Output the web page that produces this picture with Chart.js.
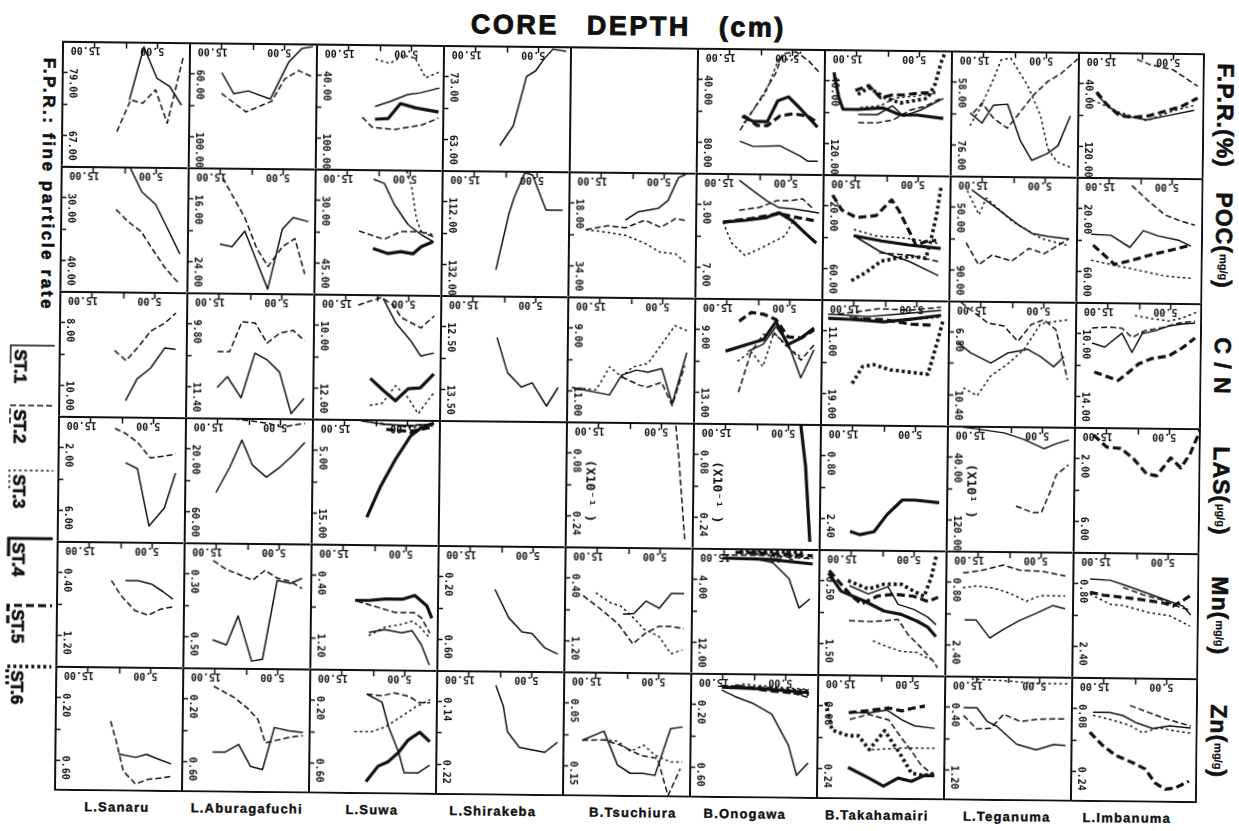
<!DOCTYPE html>
<html>
<head>
<meta charset="utf-8">
<script src="https://cdn.jsdelivr.net/npm/chart.js@4.4.1/dist/chart.umd.min.js"></script>
<style>
  html, body { margin: 0; padding: 0; background: #fff; }
  #fig { position: relative; width: 1239px; height: 831px; transform: rotate(0.62deg); transform-origin: 629px 422px; color: #111; font-family: "Liberation Sans", Arial, sans-serif; }
  #title { position: absolute; left: 324px; width: 600px; top: 10px; text-align: center; font: bold 27px/32px "Liberation Sans", Arial, sans-serif; letter-spacing: 2.5px; word-spacing: 18px; -webkit-text-stroke: 0.9px #111; }
  .vert { position: absolute; writing-mode: vertical-rl; white-space: nowrap; font-weight: bold; -webkit-text-stroke: 0.6px #111; }
  #side { left: 35px; top: 64px; width: 20px; font-size: 17px; line-height: 20px; letter-spacing: 2.6px; }
  .param { left: 1207px; width: 30px; height: 125px; font-size: 23px; line-height: 30px; text-align: center; letter-spacing: 1px; }
  .param small { font-size: 11px; letter-spacing: 0; -webkit-text-stroke: 0.2px #111; }
  .lake { position: absolute; top: 805px; width: 150px; text-align: center; font: bold 13px/16px "Liberation Sans", Arial, sans-serif; letter-spacing: 1.2px; -webkit-text-stroke: 0.4px #111; }
  canvas { position: absolute; }
</style>
</head>
<body>
<div id="fig">
  <div id="title">CORE DEPTH (cm)</div>
  <div id="side" class="vert">F.P.R.: fine particle rate</div>
  <canvas id="legend" width="60" height="420" style="left:0;top:330px"></canvas>
</div>
<script>
'use strict';

// ***************** LABELS & TICKS ***************** //

let lakes = ['L.Sanaru', 'L.Aburagafuchi', 'L.Suwa', 'L.Shirakeba', 'B.Tsuchiura', 'B.Onogawa', 'B.Takahamairi', 'L.Teganuma', 'L.Imbanuma'];
let lakeLabelX = [121, 251, 376, 497, 637, 749, 881, 1011, 1131];
let stations = ['ST.1', 'ST.2', 'ST.3', 'ST.4', 'ST.5', 'ST.6'];
let paramLabels = ['F.P.R.(%)', 'POC(<small>mg/g</small>)', 'C / N', 'LAS(<small>µg/g</small>)', 'Mn(<small>mg/g</small>)', 'Zn(<small>mg/g</small>)'];

// core depth (cm), drawn from 20 on the left to 0 on the right
let depthTicks = [15, 10, 5];
let depthLabels = [15, 5];

// [upper tick, lower tick] of every panel, one list per parameter
let fprTicks = [[79, 67], [60, 100], [40, 100], [73, 63], null, [40, 80], [40, 120], [58, 76], [40, 120]];
let pocTicks = [[30, 40], [16, 24], [30, 45], [112, 132], [18, 34], [3, 7], [20, 60], [50, 90], [20, 60]];
let cnTicks = [[8, 10], [9.8, 11.4], [10, 12], [12.5, 13.5], [9, 11], [9, 13], [11, 19], [6.8, 10.4], [10, 14]];
let lasTicks = [[2, 6], [20, 60], [5, 15], null, [0.08, 0.24], [0.08, 0.24], [0.8, 2.4], [40, 120], [2, 6]];
let mnTicks = [[0.4, 1.2], [0.3, 0.5], [0.4, 1.2], [0.2, 0.6], [0.4, 1.2], [4, 12], [0.5, 1.5], [0.8, 2.4], [0.8, 2.4]];
let znTicks = [[0.2, 0.6], [0.2, 0.6], [0.2, 0.6], [0.14, 0.22], [0.05, 0.15], [0.2, 0.6], [0.08, 0.24], [0.4, 1.2], [0.08, 0.24]];
let lasNotes = [null, null, null, null, '(X10⁻¹ )', '(X10⁻¹ )', null, '(X10¹ )', null];

// ***************** PROFILES ***************** //
// each panel: [ST.1, ST.2, ST.3, ST.4, ST.5, ST.6], points are [depth, value]

let fprSanaru = [
  [[9.3, 73.8], [7.1, 84.0], [5.0, 78.0], [3.0, 76.5], [1.1, 72.9]],
  [[11.2, 67.7], [9.1, 73.8], [7.2, 73.2], [5.2, 75.8], [3.3, 69.4], [0.9, 82.1]]
];
let fprAburagafuchi = [
  [[14.8, 59.2], [12.9, 72.6], [10.6, 70.8], [7.1, 75.8], [4.3, 52.2], [2.2, 43.2], [0.5, 42.0]],
  [[14.8, 72.6], [10.9, 84.2], [6.9, 77.2], [4.9, 63.0], [2.7, 57.4], [0.6, 61.2]]
];
let fprSuwa = [
  [[10.6, 69.7], [8.3, 64.9], [5.5, 58.0], [3.5, 56.2], [0.5, 51.4]],
  [[12.6, 80.2], [11.0, 89.8], [7.4, 91.6], [3.1, 86.8], [0.6, 80.2]],
  [[10.6, 24.4], [8.3, 28.3], [6.3, 20.5], [4.4, 22.6], [2.7, 41.8], [0.6, 36.1]],
  [[10.6, 82.0], [8.5, 81.1], [6.6, 66.7], [4.3, 70.6], [0.6, 74.5]]
];
let fprShirakeba = [
  [[10.9, 62.0], [8.8, 65.2], [6.8, 73.1], [5.4, 74.0], [4.1, 75.9], [2.7, 77.5], [0.6, 77.2]]
];
let fprTsuchiura = [];
let fprOnogawa = [
  [[13.1, 79.6], [11.0, 82.8], [6.8, 82.2], [3.6, 88.6], [2.4, 91.8], [0.8, 91.8]],
  [[13.1, 72.6], [9.9, 52.0], [7.6, 36.0], [6.5, 23.2], [4.4, 22.0], [2.4, 27.6], [0.5, 36.0]],
  [[12.5, 68.0], [9.2, 48.8], [7.0, 25.2], [5.2, 27.6], [3.0, 20.0], [0.8, 18.0]],
  [[12.8, 63.6], [11.0, 66.8], [8.8, 66.8], [7.2, 53.4], [5.5, 50.8], [3.6, 58.4], [0.9, 70.0]],
  [[12.6, 63.0], [10.4, 69.4], [8.8, 69.4], [6.8, 63.0], [4.7, 61.6], [2.5, 63.0], [0.8, 67.4]]
];
let fprTakahamairi = [
  [[14.5, 83.2], [11.5, 83.2], [9.1, 71.6], [7.4, 84.8], [4.7, 76.8], [1.1, 61.6]],
  [[14.5, 93.6], [11.5, 93.6], [9.0, 89.6], [6.3, 76.8], [3.9, 71.6], [1.6, 61.6]],
  [[14.2, 74.4], [11.0, 71.6], [8.7, 61.6], [5.5, 58.8], [2.4, 55.2]],
  [[18.4, 29.6], [17.6, 61.6], [16.9, 76.8], [14.5, 76.8], [10.6, 74.4], [7.9, 83.2], [5.2, 83.2], [1.1, 87.2]],
  [[15.0, 52.4], [12.9, 46.0], [11.0, 61.6], [9.1, 57.6], [7.4, 57.6], [5.2, 55.2], [2.4, 54.0]],
  [[14.6, 57.6], [12.9, 48.8], [10.2, 61.6], [7.9, 68.0], [3.6, 61.6], [2.4, 42.4], [1.6, 16.8], [0.8, 0]]
];
let fprTeganuma = [
  [[16.9, 66.9], [15.0, 69.8], [13.2, 64.6], [11.0, 64.3], [8.9, 74.9], [7.1, 80.4], [4.7, 78.4], [3.0, 76.1], [1.1, 67.5]],
  [[16.4, 66.9], [15.0, 64.0], [13.2, 68.4], [11.0, 71.2], [8.9, 66.3], [7.0, 61.7], [4.7, 57.6], [2.7, 55.4], [0.0, 51.0]],
  [[16.9, 70.6], [15.3, 65.5], [13.2, 56.8], [12.1, 51.6], [10.6, 51.0], [7.9, 58.8], [5.8, 67.5], [4.6, 77.0], [3.1, 80.8], [1.1, 82.2]]
];
let fprImbanuma = [
  [[17.0, 54.0], [15.0, 70.4], [12.9, 80.8], [9.1, 86.0], [6.0, 80.8], [1.6, 73.2]],
  [[10.7, 8.8], [8.7, 15.2], [5.0, 21.6], [1.1, 42.4]],
  [[17.6, 61.6], [13.4, 76.8], [9.1, 87.2], [5.0, 74.4], [1.6, 66.8]],
  [],
  [[17.0, 51.2], [15.4, 66.8], [13.4, 80.8], [11.3, 83.2], [8.7, 80.8], [6.0, 74.4], [3.5, 68.0], [1.1, 57.6]]
];

let pocSanaru = [
  [[9.0, 25.3], [7.2, 29.0], [5.0, 31.0], [3.0, 35.0], [1.1, 38.9]],
  [[11.2, 31.9], [9.3, 33.8], [7.2, 35.4], [5.4, 38.2], [3.5, 41.0], [1.4, 43.4]]
];
let pocAburagafuchi = [
  [[14.8, 21.8], [12.9, 22.1], [10.9, 20.1], [9.0, 23.9], [7.2, 27.5], [5.0, 19.8], [3.3, 18.3], [0.9, 18.8]],
  [[14.5, 13.3], [10.9, 18.4], [9.0, 22.3], [7.2, 24.6], [4.9, 22.0], [3.0, 21.0], [1.4, 25.5]]
];
let pocSuwa = [
  [[10.7, 24.9], [9.0, 25.9], [7.4, 30.9], [5.2, 35.7], [3.1, 38.1], [1.1, 39.8]],
  [[12.9, 37.4], [9.0, 39.3], [6.3, 37.4], [3.1, 37.4], [1.1, 38.6]],
  [[5.5, 22.9], [4.7, 26.6], [3.9, 34.3], [3.1, 37.4], [1.1, 38.1]],
  [[10.7, 41.5], [8.3, 42.7], [6.3, 42.2], [4.4, 42.7], [3.1, 41.0], [1.3, 39.8]]
];
let pocShirakeba = [
  [[11.3, 133.7], [9.3, 115.5], [8.5, 110.3], [6.9, 102.6], [5.7, 103.3], [3.5, 114.5], [0.9, 114.5]]
];
let pocTsuchiura = [
  [[11.0, 22.3], [9.0, 20.2], [5.8, 19.2], [4.3, 17.2], [2.7, 11.3], [1.6, 10.5]],
  [[17.2, 24.9], [13.7, 23.8], [11.0, 24.3], [7.9, 22.3], [5.4, 24.1], [3.1, 21.8], [1.4, 22.3]],
  [[17.2, 24.9], [14.2, 25.4], [11.0, 26.2], [7.9, 28.2], [5.4, 30.5], [3.1, 30.8], [1.4, 33.0]]
];
let pocOnogawa = [
  [[13.1, 1.45], [11.0, 2.09], [8.8, 2.73], [6.8, 3.18], [4.7, 3.24], [2.5, 3.37], [0.5, 3.50]],
  [[13.1, 3.37], [9.9, 3.18], [7.2, 2.73], [5.2, 2.73], [3.1, 2.60], [1.6, 3.18]],
  [[15.6, 4.14], [14.2, 5.49], [12.1, 6.26], [9.4, 5.74], [5.8, 4.97], [4.3, 3.82]],
  [[15.6, 4.14], [12.0, 4.01], [8.8, 3.82], [6.8, 3.50], [4.7, 4.01], [2.5, 4.85], [0.9, 5.42]],
  [[15.6, 4.14], [11.0, 3.88], [6.8, 3.56], [3.6, 3.82], [0.9, 4.01]]
];
let pocTakahamairi = [
  [[15.0, 39.2], [11.0, 48.8], [6.3, 55.2], [1.6, 64.2]],
  [[11.0, 50.0], [6.3, 51.2], [1.6, 55.2]],
  [[15.0, 35.2], [11.5, 39.2], [6.8, 40.4], [1.6, 43.6]],
  [[15.0, 39.2], [10.6, 42.4], [6.3, 44.8], [1.3, 46.8]],
  [[18.4, 13.4], [16.9, 23.0], [14.6, 27.6], [11.5, 26.2], [9.1, 16.0], [7.9, 23.0], [6.3, 35.8], [5.2, 44.8], [3.6, 42.4], [2.0, 41.6]],
  [[15.3, 68.0], [13.1, 62.8], [10.6, 55.2], [7.9, 53.2], [5.8, 52.0], [3.6, 53.2], [2.8, 40.4], [2.0, 25.6], [1.3, 6.4]]
];
let pocTeganuma = [
  [[16.5, 39.0], [13.2, 48.6], [9.0, 61.4], [6.9, 66.6], [4.3, 68.4], [1.1, 69.8]],
  [[17.3, 73.0], [15.3, 87.0], [13.2, 80.6], [10.1, 84.4], [7.4, 76.2], [5.0, 79.4], [1.1, 69.8]],
  [[17.2, 39.6], [15.3, 55.0], [14.2, 44.2], [10.1, 58.8], [5.4, 69.8], [1.1, 74.2]]
];
let pocImbanuma = [
  [[17.6, 36.6], [14.5, 37.2], [11.5, 44.8], [9.4, 34.0], [7.1, 37.2], [3.9, 39.8], [1.9, 43.6]],
  [[11.3, 5.2], [8.7, 14.8], [6.0, 23.8], [3.5, 27.6], [1.3, 30.2]],
  [[17.6, 53.2], [13.9, 56.4], [9.8, 59.6], [6.0, 62.8], [1.9, 64.2]],
  [],
  [[17.3, 43.6], [13.9, 55.8], [11.3, 53.2], [8.2, 49.4], [5.0, 46.2], [1.9, 43.0]]
];

let cnSanaru = [
  [[9.4, 10.49], [7.6, 9.79], [5.5, 9.44], [3.3, 8.79], [1.6, 8.83]],
  [[11.2, 8.89], [9.4, 9.21], [7.6, 8.79], [5.5, 8.25], [3.3, 7.99], [1.6, 7.67]]
];
let cnAburagafuchi = [
  [[15.0, 11.43], [13.4, 11.15], [11.2, 11.69], [9.1, 10.54], [7.1, 10.72], [5.2, 11.02], [3.3, 12.08], [1.3, 11.69]],
  [[15.0, 10.51], [13.1, 10.51], [11.2, 9.74], [9.1, 9.77], [7.2, 10.28], [5.2, 10.02], [3.1, 9.95], [1.3, 10.21]]
];
let cnSuwa = [
  [[9.0, 9.13], [6.9, 9.93], [4.6, 10.47], [3.0, 10.96], [0.9, 10.86]],
  [[12.9, 9.35], [9.3, 9.10], [7.4, 9.35], [6.1, 9.74], [3.0, 10.06], [0.9, 9.67]],
  [[10.9, 12.56], [9.0, 12.49], [6.9, 11.92], [4.9, 12.30], [3.3, 12.81], [0.9, 12.14]],
  [[10.9, 11.69], [8.8, 12.08], [6.9, 12.40], [4.9, 12.01], [3.0, 11.98], [0.9, 11.53]]
];
let cnShirakeba = [
  [[11.0, 12.67], [9.3, 13.23], [7.1, 13.46], [5.4, 13.39], [3.1, 13.76], [1.3, 13.46]]
];
let cnTsuchiura = [
  [[19.1, 10.92], [13.2, 11.14], [11.3, 10.50], [9.0, 10.34], [7.2, 10.40], [5.0, 10.28], [3.3, 11.40], [1.1, 9.76]],
  [[11.3, 10.56], [8.5, 10.82], [7.2, 10.88], [5.0, 10.72], [3.3, 11.46], [1.4, 10.18]],
  [[19.1, 10.92], [15.3, 10.98], [13.2, 10.24], [11.3, 10.56], [9.6, 10.24], [7.2, 10.12], [5.4, 9.60], [3.0, 8.90], [1.1, 9.06]]
];
let cnOnogawa = [
  [[11.5, 10.40], [9.1, 9.94], [7.1, 8.80], [5.2, 9.82], [3.1, 12.06], [1.1, 10.26]],
  [[12.9, 13.02], [11.0, 10.46], [9.1, 9.30], [7.1, 9.30], [3.1, 10.92], [1.1, 9.94]],
  [[13.1, 11.04], [11.0, 10.40], [9.1, 11.36], [7.4, 9.18], [5.2, 10.14], [3.1, 10.72]],
  [[15.0, 10.40], [11.5, 9.94], [9.0, 9.62], [7.1, 8.48], [5.2, 9.94], [3.1, 9.50], [1.1, 8.86]],
  [[12.9, 8.48], [11.0, 7.90], [9.0, 8.02], [7.1, 8.34], [5.2, 9.44], [3.1, 9.50], [1.1, 8.98]]
];
let cnTakahamairi = [
  [[18.9, 8.92], [12.6, 9.16], [7.4, 8.80], [1.1, 8.28]],
  [[17.3, 8.92], [11.0, 8.16], [5.8, 8.28], [1.1, 7.88]],
  [[15.6, 9.16], [10.6, 9.84], [1.1, 9.16]],
  [[18.9, 9.44], [15.3, 9.56], [10.1, 9.84], [5.8, 9.44], [1.1, 8.92]],
  [[15.3, 9.44], [10.1, 9.56], [5.8, 10.08], [2.2, 10.20]],
  [[15.0, 17.76], [13.4, 15.60], [11.7, 15.32], [9.0, 15.96], [5.8, 16.24], [3.1, 16.48], [2.2, 13.92], [1.6, 12.12], [0.8, 9.56]]
];
let cnTeganuma = [
  [[18.4, 7.43], [16.4, 8.00], [13.2, 8.58], [10.6, 8.00], [7.4, 7.77], [5.4, 8.17], [3.3, 8.75], [1.7, 8.17]],
  [[18.0, 5.1], [13.7, 6.28], [11.2, 6.44], [9.0, 7.31], [6.9, 6.34], [4.9, 6.05], [3.0, 6.62], [1.1, 9.50]],
  [[17.5, 10.02], [15.3, 10.47], [13.2, 9.32], [10.6, 8.64], [8.0, 7.77], [5.4, 6.28], [3.3, 6.15], [1.1, 6.04]]
];
let cnImbanuma = [
  [[17.3, 10.62], [15.3, 10.88], [12.6, 9.98], [11.0, 11.20], [9.4, 9.98], [7.4, 9.80], [5.2, 9.48], [3.1, 9.34], [1.1, 9.28]],
  [[17.3, 9.66], [14.6, 9.60], [12.6, 9.66], [11.0, 10.24], [9.0, 9.80], [6.3, 9.60], [3.6, 9.28], [1.1, 9.16]],
  [[10.6, 8.84], [7.9, 9.02], [5.2, 9.16], [3.1, 8.96], [0.5, 8.52]],
  [],
  [[16.9, 12.48], [14.6, 12.80], [13.1, 13.00], [11.5, 12.48], [9.9, 11.92], [7.9, 11.58], [5.2, 11.40], [3.1, 10.88], [1.1, 10.24]]
];

let lasSanaru = [
  [[9.3, 2.95], [7.4, 3.33], [5.5, 6.99], [3.1, 5.83], [1.4, 3.59]],
  [[11.0, 0.77], [9.3, 1.09], [7.4, 1.66], [5.4, 2.63], [3.1, 2.50], [1.4, 2.37]]
];
let lasAburagafuchi = [
  [[15.0, 48.0], [12.9, 32.0], [11.0, 14.2], [9.3, 30.2], [7.1, 37.8], [5.0, 31.4], [3.0, 23.8], [1.1, 15.4]],
  [[12.4, 0.6], [7.1, 3.2], [4.6, 5.8], [3.0, 4.4], [1.1, 3.2]]
];
let lasSuwa = [
  [[12.3, 0.3], [8.7, 0.8], [4.4, 0.95], [0.8, 0.65]],
  [[10.7, 0.5], [6.0, 1.1], [2.8, 0.8], [0.8, 0.8]],
  [[9.1, 0.65], [4.4, 1.3], [0.8, 0.95]],
  [[11.2, 15.7], [9.1, 10.75], [6.8, 6.4], [4.4, 2.55], [2.8, 1.3], [0.8, 0.5]],
  [[8.3, 1.6], [4.4, 1.9], [0.8, 1.1]]
];
let lasShirakeba = [];
let lasTsuchiura = [
  [],
  [[2.7, 0.008], [2.2, 0.085], [1.6, 0.202], [1.1, 0.302]]
];
let lasOnogawa = [
  [], [], [],
  [[3.0, 0.005], [2.2, 0.108], [1.4, 0.302]]
];
let lasTakahamairi = [
  [], [], [],
  [[15.1, 2.74], [13.5, 2.82], [11.3, 2.74], [9.3, 2.30], [6.9, 1.92], [4.9, 1.92], [1.1, 1.98]]
];
let lasTeganuma = [
  [[17.5, 2.0], [15.3, 4.0], [11.0, 8.8], [7.9, 16.8], [4.7, 28.4], [2.7, 21.6], [0.8, 16.8]],
  [[9.0, 102.4], [6.3, 110.4], [5.0, 110.4], [3.5, 80.8], [2.7, 61.6], [0.8, 48.8]]
];
let lasImbanuma = [
  [], [], [], [],
  [[16.9, 0.51], [14.8, 1.28], [12.6, 1.35], [10.6, 1.99], [8.5, 2.95], [6.9, 3.08], [4.7, 1.92], [3.1, 2.56], [1.6, 1.60], [0.0, 0.0]]
];

let mnSanaru = [
  [[9.1, 0.50], [7.1, 0.50], [5.0, 0.54], [3.1, 0.64], [1.6, 0.73]],
  [[11.3, 0.50], [9.8, 0.69], [7.6, 0.88], [5.5, 0.94], [3.5, 0.86], [1.6, 0.83]]
];
let mnAburagafuchi = [
  [[15.3, 0.511], [13.1, 0.527], [11.3, 0.434], [9.1, 0.578], [7.4, 0.572], [5.2, 0.319], [3.1, 0.328], [1.3, 0.312]],
  [[15.3, 0.258], [13.1, 0.287], [11.0, 0.303], [9.1, 0.319], [7.1, 0.287], [5.2, 0.312], [3.1, 0.322], [1.3, 0.344]]
];
let mnSuwa = [
  [[10.7, 1.13], [8.2, 1.09], [5.5, 1.13], [3.9, 1.10], [2.4, 1.28], [1.1, 1.54]],
  [[12.6, 0.73], [6.6, 0.87], [3.6, 0.87], [2.4, 0.94], [1.1, 1.13]],
  [[10.7, 1.17], [8.2, 1.06], [5.5, 1.02], [3.9, 0.98], [2.8, 1.04], [1.1, 1.19]],
  [[12.9, 0.72], [10.7, 0.72], [8.2, 0.70], [5.5, 0.70], [3.5, 0.65], [1.6, 0.78], [0.8, 0.94]]
];
let mnShirakeba = [
  [[10.9, 0.28], [8.7, 0.46], [6.6, 0.55], [5.0, 0.56], [3.0, 0.65], [0.9, 0.69]]
];
let mnTsuchiura = [
  [[10.7, 0.86], [9.0, 0.85], [7.1, 0.69], [5.0, 0.78], [3.1, 0.59], [1.1, 0.59]],
  [[17.0, 0.63], [14.2, 0.80], [11.5, 0.98], [9.1, 1.24], [7.1, 1.10], [5.0, 1.01], [3.1, 1.01], [1.1, 1.04]],
  [[15.0, 0.59], [12.6, 0.72], [11.0, 0.76], [9.0, 0.91], [7.4, 1.05], [5.0, 1.14], [3.1, 1.36], [1.3, 1.31]]
];
let mnOnogawa = [
  [[15.1, 1.28], [10.4, 1.28], [7.2, 1.80], [4.6, 3.84], [3.0, 7.56], [1.3, 6.40]],
  [[15.1, 0.88], [7.7, 0.88], [0.9, 1.28]],
  [[12.4, 0.64], [5.2, 0.88], [0.9, 1.16]],
  [[15.1, 1.28], [7.7, 1.40], [0.9, 1.92]],
  [[13.1, 0.52], [7.7, 0.64], [0.9, 0.88]],
  [[12.4, 0.24], [7.7, 0.40], [2.5, 0.52]]
];
let mnTakahamairi = [
  [[15.1, 0.58], [12.1, 0.71], [9.0, 0.59], [7.4, 0.87], [4.9, 0.95], [2.7, 1.07], [1.4, 1.19]],
  [[15.1, 1.14], [12.1, 1.15], [9.6, 1.14], [7.4, 1.11], [5.8, 1.35], [3.8, 1.55], [1.7, 1.78], [1.1, 1.88]],
  [[11.3, 1.46], [9.0, 1.55], [6.9, 1.62], [4.3, 1.64], [2.2, 1.75]],
  [[18.4, 0.38], [16.4, 0.67], [12.8, 0.82], [9.6, 0.98], [6.9, 1.03], [4.3, 1.14], [2.7, 1.23], [1.4, 1.38]],
  [[18.3, 0.34], [14.8, 0.74], [13.2, 0.87], [10.6, 0.74], [8.0, 0.71], [4.9, 0.74], [2.7, 0.82], [1.1, 0.75]],
  [[15.3, 0.50], [12.1, 0.63], [9.6, 0.55], [6.9, 0.55], [4.9, 0.66], [3.3, 0.74], [2.2, 0.43], [1.4, 0.06]]
];
let mnTeganuma = [
  [[16.9, 1.77], [15.1, 1.77], [12.9, 2.23], [10.9, 2.02], [8.2, 1.77], [5.7, 1.59], [3.0, 1.38], [1.1, 1.46]],
  [[17.2, 0.57], [14.5, 0.51], [10.9, 0.36], [8.2, 0.49], [4.6, 0.51], [1.1, 0.62]],
  [[17.2, 0.95], [15.1, 0.90], [12.4, 0.95], [9.8, 1.08], [7.2, 1.28], [5.0, 1.13], [1.1, 1.13]]
];
let mnImbanuma = [
  [[17.2, 0.69], [14.0, 0.72], [11.5, 0.85], [8.3, 1.03], [5.2, 1.21], [2.5, 1.36], [1.3, 1.59]],
  [[12.0, 0.90], [8.8, 1.08], [5.7, 1.21], [3.6, 1.36], [1.4, 1.46]],
  [[17.2, 1.08], [14.0, 1.33], [12.0, 1.36], [7.7, 1.54], [4.6, 1.61], [1.4, 1.87]],
  [],
  [[17.2, 1.03], [15.1, 1.10], [12.0, 1.15], [8.8, 1.21], [5.7, 1.28], [4.1, 1.36], [2.5, 1.21], [1.3, 1.08]]
];

let znSanaru = [
  [[9.9, 0.56], [7.2, 0.58], [5.5, 0.56], [3.6, 0.59], [1.6, 0.62]],
  [[11.2, 0.35], [10.2, 0.49], [9.1, 0.67], [7.2, 0.75], [5.2, 0.72], [3.1, 0.71], [1.6, 0.70]]
];
let znAburagafuchi = [
  [[15.1, 0.54], [13.1, 0.54], [11.0, 0.49], [9.1, 0.63], [7.2, 0.65], [5.4, 0.38], [3.1, 0.40], [0.9, 0.41]],
  [[15.0, 0.12], [11.8, 0.19], [9.6, 0.26], [8.0, 0.33], [6.8, 0.48], [4.9, 0.46], [2.8, 0.44], [0.9, 0.43]]
];
let znSuwa = [
  [[10.9, 0.16], [8.5, 0.21], [7.4, 0.37], [5.8, 0.53], [4.9, 0.66], [2.7, 0.66], [0.9, 0.61]],
  [[10.9, 0.16], [8.5, 0.17], [6.6, 0.15], [4.3, 0.17], [2.7, 0.21], [0.9, 0.21]],
  [[12.8, 0.40], [10.1, 0.40], [8.0, 0.37], [5.4, 0.30], [3.3, 0.24], [0.9, 0.19]],
  [[10.9, 0.72], [9.0, 0.62], [7.4, 0.59], [5.8, 0.53], [4.3, 0.45], [2.5, 0.40], [0.9, 0.46]]
];
let znShirakeba = [
  [[10.6, 0.119], [9.4, 0.145], [8.7, 0.178], [6.8, 0.198], [4.7, 0.201], [2.8, 0.204], [0.8, 0.191]]
];
let znTsuchiura = [
  [[16.9, 0.110], [13.5, 0.095], [11.3, 0.149], [9.3, 0.162], [7.2, 0.162], [5.4, 0.165], [3.0, 0.090], [1.1, 0.087]],
  [[16.9, 0.110], [13.5, 0.109], [10.9, 0.117], [7.7, 0.133], [5.0, 0.138], [3.3, 0.197], [1.4, 0.154]],
  [[13.5, 0.109], [11.3, 0.111], [9.3, 0.127], [7.2, 0.117], [5.4, 0.133], [3.0, 0.143], [1.1, 0.143]]
];
let znOnogawa = [
  [[15.0, 0.11], [12.9, 0.15], [10.2, 0.19], [7.1, 0.26], [4.4, 0.46], [3.1, 0.65], [1.3, 0.57]],
  [[15.0, 0.08], [7.6, 0.09], [1.3, 0.15]],
  [[11.8, 0.07], [5.0, 0.09], [1.3, 0.10]],
  [[15.0, 0.09], [7.6, 0.10], [1.3, 0.12]],
  [[12.9, 0.08], [7.6, 0.11], [1.3, 0.13]],
  [[7.6, 0.10], [1.3, 0.11]]
];
let znTakahamairi = [
  [[14.8, 0.098], [11.8, 0.098], [9.0, 0.090], [6.6, 0.115], [4.6, 0.130], [1.4, 0.136]],
  [[14.8, 0.115], [11.8, 0.102], [8.7, 0.115], [6.6, 0.162], [5.0, 0.195], [3.5, 0.230], [1.4, 0.257]],
  [[11.3, 0.192], [6.6, 0.187], [1.4, 0.187]],
  [[15.0, 0.238], [11.8, 0.264], [9.4, 0.285], [7.1, 0.264], [5.0, 0.272], [3.0, 0.257], [1.4, 0.257]],
  [[15.0, 0.098], [11.8, 0.092], [8.7, 0.085], [6.6, 0.092], [5.0, 0.085], [3.0, 0.079]],
  [[18.6, 0.072], [17.6, 0.143], [15.0, 0.157], [13.4, 0.157], [11.7, 0.192], [9.3, 0.143], [6.9, 0.200], [5.0, 0.251], [3.0, 0.257], [1.4, 0.251]]
];
let znTeganuma = [
  [[16.9, 0.41], [14.8, 0.41], [13.2, 0.58], [11.7, 0.64], [8.5, 0.87], [5.4, 0.94], [2.7, 0.87], [0.8, 0.88]],
  [[16.9, 0.51], [14.8, 0.68], [12.6, 0.67], [10.6, 0.49], [7.9, 0.58], [5.4, 0.55], [2.7, 0.54], [0.8, 0.54]],
  [[15.7, 0.04], [10.6, 0.06], [5.4, 0.09], [0.6, 0.09]]
];
let znImbanuma = [
  [[16.5, 0.090], [13.9, 0.090], [11.8, 0.098], [9.8, 0.115], [7.1, 0.130], [4.4, 0.123], [1.1, 0.128]],
  [[10.7, 0.072], [7.6, 0.090], [5.0, 0.105], [2.8, 0.115], [1.1, 0.123]],
  [[16.5, 0.098], [13.4, 0.110], [10.7, 0.123], [8.7, 0.141], [6.0, 0.128], [3.5, 0.136], [1.1, 0.141]],
  [],
  [[17.0, 0.141], [15.0, 0.174], [12.9, 0.200], [10.2, 0.218], [8.2, 0.234], [6.6, 0.270], [5.0, 0.285], [3.5, 0.282], [1.3, 0.264]]
];

// ***************** STYLE ***************** //

let ink = '#111';
let stWidths = [1.5, 1.5, 1.5, 3.2, 3.2, 3.6];
let stDashes = [[], [6, 3], [2.5, 3], [], [8, 4], [3, 3]];
let tickFont = 'bold 10px "DejaVu Sans Mono", monospace';
let noteFont = 'bold 13px "DejaVu Sans Mono", monospace';

let gridLeft = 58;
let gridTop = 47;
let cellW = 127;
let cellH = 125;

// ***************** PANEL GRID ***************** //

let rows = [
  { ticks: fprTicks, notes: [], cells: [fprSanaru, fprAburagafuchi, fprSuwa, fprShirakeba, fprTsuchiura, fprOnogawa, fprTakahamairi, fprTeganuma, fprImbanuma] },
  { ticks: pocTicks, notes: [], cells: [pocSanaru, pocAburagafuchi, pocSuwa, pocShirakeba, pocTsuchiura, pocOnogawa, pocTakahamairi, pocTeganuma, pocImbanuma] },
  { ticks: cnTicks, notes: [], cells: [cnSanaru, cnAburagafuchi, cnSuwa, cnShirakeba, cnTsuchiura, cnOnogawa, cnTakahamairi, cnTeganuma, cnImbanuma] },
  { ticks: lasTicks, notes: lasNotes, cells: [lasSanaru, lasAburagafuchi, lasSuwa, lasShirakeba, lasTsuchiura, lasOnogawa, lasTakahamairi, lasTeganuma, lasImbanuma] },
  { ticks: mnTicks, notes: [], cells: [mnSanaru, mnAburagafuchi, mnSuwa, mnShirakeba, mnTsuchiura, mnOnogawa, mnTakahamairi, mnTeganuma, mnImbanuma] },
  { ticks: znTicks, notes: [], cells: [znSanaru, znAburagafuchi, znSuwa, znShirakeba, znTsuchiura, znOnogawa, znTakahamairi, znTeganuma, znImbanuma] }
];

// frame, inward tick marks and the turned tick labels of one panel
let panelAxes = {
  id: 'panelAxes',
  afterDatasetsDraw(chart, args, opts) {
    let ctx = chart.ctx;
    let area = chart.chartArea;
    let xScale = chart.scales.x;
    let yScale = chart.scales.y;

    ctx.save();
    ctx.strokeStyle = ink;
    ctx.fillStyle = ink;
    ctx.setLineDash([]);
    ctx.lineWidth = 2;
    ctx.beginPath();
    ctx.moveTo(area.left + 1, area.bottom);
    ctx.lineTo(area.left + 1, area.top + 1);
    ctx.lineTo(area.right, area.top + 1);
    if (opts.lastCol) {
      ctx.moveTo(area.right - 1, area.top);
      ctx.lineTo(area.right - 1, area.bottom);
    }
    if (opts.lastRow) {
      ctx.moveTo(area.left, area.bottom - 1);
      ctx.lineTo(area.right, area.bottom - 1);
    }
    ctx.stroke();

    if (opts.ticks) {
      let top = opts.ticks[0];
      let bottom = opts.ticks[1];
      let yValues = [top, (top + bottom) / 2, bottom];

      ctx.lineWidth = 1.5;
      ctx.beginPath();
      for (let d of depthTicks) {
        let px = Math.round(xScale.getPixelForValue(d)) + 0.5;
        ctx.moveTo(px, area.top);
        ctx.lineTo(px, area.top + 7);
      }
      for (let v of yValues) {
        let py = Math.round(yScale.getPixelForValue(v)) + 0.5;
        ctx.moveTo(area.left, py);
        ctx.lineTo(area.left + 6, py);
      }
      ctx.stroke();

      ctx.font = tickFont;
      ctx.textAlign = 'left';
      ctx.textBaseline = 'alphabetic';
      for (let d of depthLabels) {
        ctx.save();
        ctx.translate(xScale.getPixelForValue(d) + 7, area.top + 6);
        ctx.rotate(Math.PI);
        ctx.fillText(d.toFixed(2), 0, 0);
        ctx.restore();
      }
      for (let v of [top, bottom]) {
        ctx.save();
        ctx.translate(area.left + 8, yScale.getPixelForValue(v) - 4);
        ctx.rotate(Math.PI / 2);
        ctx.fillText(v.toFixed(2), 0, 0);
        ctx.restore();
      }
    }

    if (opts.note) {
      ctx.font = noteFont;
      ctx.save();
      ctx.translate(area.left + 21, area.top + 38);
      ctx.rotate(Math.PI / 2);
      ctx.fillText(opts.note, 0, 0);
      ctx.restore();
    }
    ctx.restore();
  }
};

function buildDatasets(profiles) {
  let datasets = [];
  profiles.forEach(function (points, i) {
    if (!points || !points.length) {
      return;
    }
    datasets.push({
      label: stations[i],
      data: points,
      borderColor: ink,
      borderWidth: stWidths[i],
      borderDash: stDashes[i],
      borderCapStyle: 'butt',
      borderJoinStyle: 'round',
      pointRadius: 0,
      tension: 0,
      fill: false
    });
  });
  return datasets;
}

function valueScale(ticks) {
  if (!ticks) {
    return { type: 'linear', display: false, min: 0, max: 1 };
  }
  // three ticks sit at 1/4, 1/2 and 3/4 of the panel height
  let half = (ticks[1] - ticks[0]) / 2;
  let a = ticks[0] - half;
  let b = ticks[1] + half;
  return { type: 'linear', display: false, min: Math.min(a, b), max: Math.max(a, b), reverse: ticks[0] < ticks[1] };
}

let fig = document.getElementById('fig');

rows.forEach(function (row, r) {
  row.cells.forEach(function (profiles, c) {
    let canvas = document.createElement('canvas');
    canvas.width = cellW;
    canvas.height = cellH;
    canvas.style.left = (gridLeft + c * cellW) + 'px';
    canvas.style.top = (gridTop + r * cellH) + 'px';
    fig.appendChild(canvas);

    new Chart(canvas, {
      type: 'line',
      data: { datasets: buildDatasets(profiles) },
      options: {
        responsive: false,
        animation: false,
        events: [],
        layout: { padding: 0 },
        scales: {
          x: { type: 'linear', display: false, min: 0, max: 20, reverse: true },
          y: valueScale(row.ticks[c])
        },
        plugins: {
          legend: { display: false },
          tooltip: { enabled: false },
          panelAxes: {
            ticks: row.ticks[c],
            note: row.notes[c] || null,
            lastCol: c === row.cells.length - 1,
            lastRow: r === rows.length - 1
          }
        }
      },
      plugins: [panelAxes]
    });
  });
});

// ***************** SIDE LABELS ***************** //

paramLabels.forEach(function (text, r) {
  let div = document.createElement('div');
  div.className = 'vert param';
  div.style.top = (gridTop + r * cellH) + 'px';
  div.innerHTML = text;
  fig.appendChild(div);
});

lakes.forEach(function (name, c) {
  let div = document.createElement('div');
  div.className = 'lake';
  div.style.left = (lakeLabelX[c] - 75) + 'px';
  div.textContent = name;
  fig.appendChild(div);
});

// station key down the left margin
let legendCtx = document.getElementById('legend').getContext('2d');
let legendTops = [26, 86, 151, 219, 286, 347];
stations.forEach(function (name, i) {
  let y = legendTops[i];
  legendCtx.strokeStyle = ink;
  legendCtx.lineWidth = stWidths[i];
  legendCtx.setLineDash(stDashes[i]);
  legendCtx.beginPath();
  legendCtx.moveTo(10, y + 14);
  legendCtx.lineTo(10, y - 4);
  legendCtx.lineTo(54, y - 4);
  legendCtx.stroke();

  legendCtx.save();
  legendCtx.fillStyle = ink;
  legendCtx.strokeStyle = ink;
  legendCtx.lineWidth = 0.7;
  legendCtx.setLineDash([]);
  legendCtx.font = 'bold 17px "Liberation Sans", Arial, sans-serif';
  legendCtx.translate(14, y);
  legendCtx.rotate(Math.PI / 2);
  legendCtx.fillText(name, 0, 0);
  legendCtx.strokeText(name, 0, 0);
  legendCtx.restore();
});
</script>
</body>
</html>
